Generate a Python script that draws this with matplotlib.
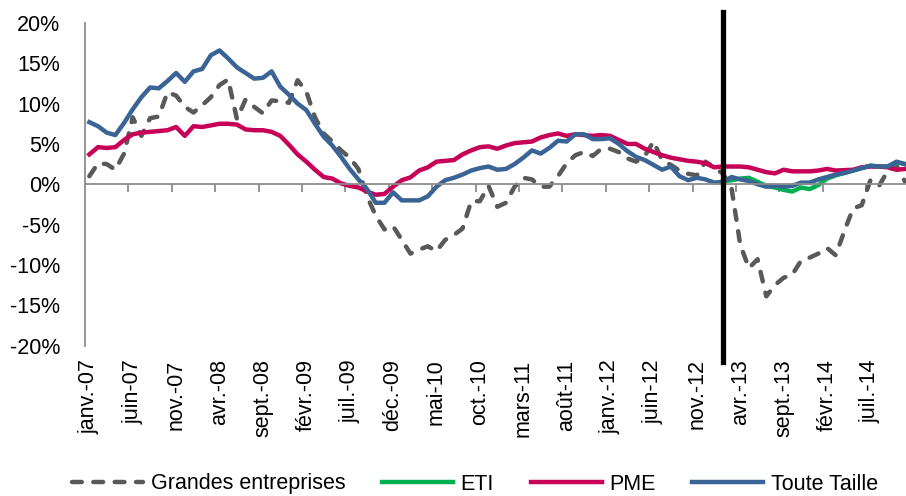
import numpy as np
import matplotlib
matplotlib.use("Agg")
import matplotlib.pyplot as plt

# Month labels, janv.-07 to nov.-14
month_names = ["janv.", "févr.", "mars", "avr.", "mai", "juin",
               "juil.", "août", "sept.", "oct.", "nov.", "déc."]
months = [f"{m}-{y:02d}" for y in range(7, 15) for m in month_names][:95]

# Growth rates (%)
grandes = [1.0, 2.6, 2.5, 1.8, 3.8, 8.3, 6.0, 8.2, 8.4, 11.4,
           11.0, 9.6, 8.9, 9.8, 10.8, 12.3, 13.0, 8.1, 10.5, 9.6,
           8.8, 10.4, 10.3, 10.1, 12.9, 11.5, 8.3, 6.3, 5.3, 4.2,
           3.3, 1.9, -1.5, -3.9, -5.6, -5.2, -6.9, -8.6, -8.1, -7.7,
           -8.3, -6.9, -6.3, -5.5, -2.1, -2.1, -0.2, -2.8, -2.3, -0.3,
           0.8, 0.6, -0.3, -0.3, 1.0, 2.6, 3.6, 4.0, 3.5, 4.4,
           4.4, 4.0, 3.2, 2.8, 3.5, 5.3, 3.0, 2.4, 1.7, 1.3,
           1.1, 2.8, 2.1, 1.3, -0.5, -7.5, -10.4, -9.3, -13.9, -12.5,
           -11.6, -11.2, -9.5, -9.1, -8.6, -7.9, -8.8, -5.8, -3.0, -2.6,
           0.5, -0.2, 1.7, 2.3, 0.3]

eti = [0.4, 0.5, 0.7, 0.8, 0.3, -0.2, -0.4, -0.7, -0.9, -0.4,
       -0.6, -0.1, 0.7, 1.1, 1.4, 1.7, 2.0, 2.3, 2.2, 2.2,
       2.7, 2.5]

pme = [3.7, 4.6, 4.5, 4.6, 5.5, 6.2, 6.4, 6.5, 6.6, 6.7,
       7.1, 6.0, 7.2, 7.1, 7.3, 7.5, 7.5, 7.4, 6.8, 6.7,
       6.7, 6.5, 6.0, 4.9, 3.7, 2.8, 1.8, 0.9, 0.7, 0.1,
       -0.2, -0.4, -0.9, -1.3, -1.2, -0.3, 0.5, 0.85, 1.7, 2.1,
       2.8, 2.9, 3.0, 3.7, 4.2, 4.6, 4.7, 4.4, 4.8, 5.1,
       5.2, 5.3, 5.8, 6.1, 6.3, 6.0, 6.2, 6.1, 6.0, 6.1,
       6.0, 5.5, 5.0, 5.0, 4.4, 4.0, 3.6, 3.3, 3.1, 2.9,
       2.8, 2.6, 2.1, 2.2, 2.2, 2.2, 2.1, 1.8, 1.5, 1.35,
       1.8, 1.6, 1.6, 1.6, 1.7, 1.9, 1.7, 1.75, 1.8, 2.1,
       2.2, 2.2, 2.1, 1.8, 1.9]

toute = [7.7, 7.2, 6.4, 6.1, 7.6, 9.3, 10.8, 12.0, 11.9, 12.8,
         13.8, 12.7, 14.0, 14.3, 16.0, 16.6, 15.6, 14.5, 13.8, 13.1,
         13.2, 14.0, 12.1, 11.1, 10.0, 9.2, 7.5, 5.9, 4.8, 3.4,
         1.9, 0.6, -0.6, -2.3, -2.3, -1.0, -2.0, -2.0, -2.0, -1.5,
         -0.3, 0.5, 0.8, 1.2, 1.7, 2.0, 2.2, 1.8, 1.9, 2.5,
         3.3, 4.2, 3.8, 4.5, 5.4, 5.3, 6.2, 6.2, 5.6, 5.6,
         5.7, 5.0, 4.1, 3.4, 3.0, 2.4, 1.8, 2.2, 1.0, 0.5,
         0.8, 0.6, 0.2, 0.3, 0.9, 0.6, 0.4, 0.0, -0.3, -0.2,
         -0.3, -0.2, 0.2, 0.2, 0.6, 0.9, 1.2, 1.4, 1.7, 2.0,
         2.3, 2.2, 2.2, 2.8, 2.5]

eti_start = months.index("févr.-13")
break_month = "févr.-13"

grey = "#595959"
green = "#00B050"
magenta = "#C70058"
blue = "#3A6496"
axis_grey = "#8C8C8C"

plt.rcParams["font.family"] = ["Liberation Sans", "DejaVu Sans"]
plt.rcParams["font.size"] = 15.5

fig = plt.figure(figsize=(9.06, 4.96), dpi=100)
ax = fig.add_axes([85 / 906, 1 - 345.5 / 496, 821 / 906, 322.5 / 496])

x = np.arange(len(months))
lw = 3.2
ax.plot(x, grandes, color=grey, lw=lw, dashes=(2.2, 2.6),
        dash_capstyle="round", label="Grandes entreprises")
ax.plot(x[eti_start:], eti, color=green, lw=lw, label="ETI",
        solid_joinstyle="round")
ax.plot(x, pme, color=magenta, lw=lw, label="PME", solid_joinstyle="round")
ax.plot(x, toute, color=blue, lw=lw, label="Toute Taille",
        solid_joinstyle="round")

# break line
ax.axvline(months.index(break_month), ymin=-0.05, ymax=1.035, color="black",
           lw=3.8, clip_on=False, zorder=6)

ax.set_xlim(-0.5, 94.1)
ax.set_ylim(-20, 20)

yt = list(range(-20, 21, 5))
ax.set_yticks(yt)
ax.set_yticklabels([f"{v}%" for v in yt])
ax.tick_params(axis="y", length=0, pad=18)

for s in ["top", "right"]:
    ax.spines[s].set_visible(False)
ax.spines["left"].set_color(axis_grey)
ax.spines["left"].set_linewidth(1.3)
ax.spines["bottom"].set_position(("data", 0))
ax.spines["bottom"].set_color(axis_grey)
ax.spines["bottom"].set_linewidth(1.3)

# tick marks between groups of 5 months on the zero line
ax.set_xticks(np.arange(4.5, len(months) - 1, 5))
ax.set_xticklabels([])
ax.tick_params(axis="x", direction="out", length=6, width=1.3,
               color=axis_grey)

# month labels at the bottom
sec = ax.secondary_xaxis("bottom")
sec.set_xticks(x[::5])
sec.set_xticklabels(months[::5], rotation=90)
sec.tick_params(length=0, pad=10)
sec.spines["bottom"].set_visible(False)

fig.legend(loc="center", bbox_to_anchor=(475 / 906, 1 - 484 / 496), ncol=4,
           frameon=False, handlelength=3.3, handletextpad=0.35,
           columnspacing=1.7, fontsize=15.5)

fig.savefig("out.png", dpi=100)
